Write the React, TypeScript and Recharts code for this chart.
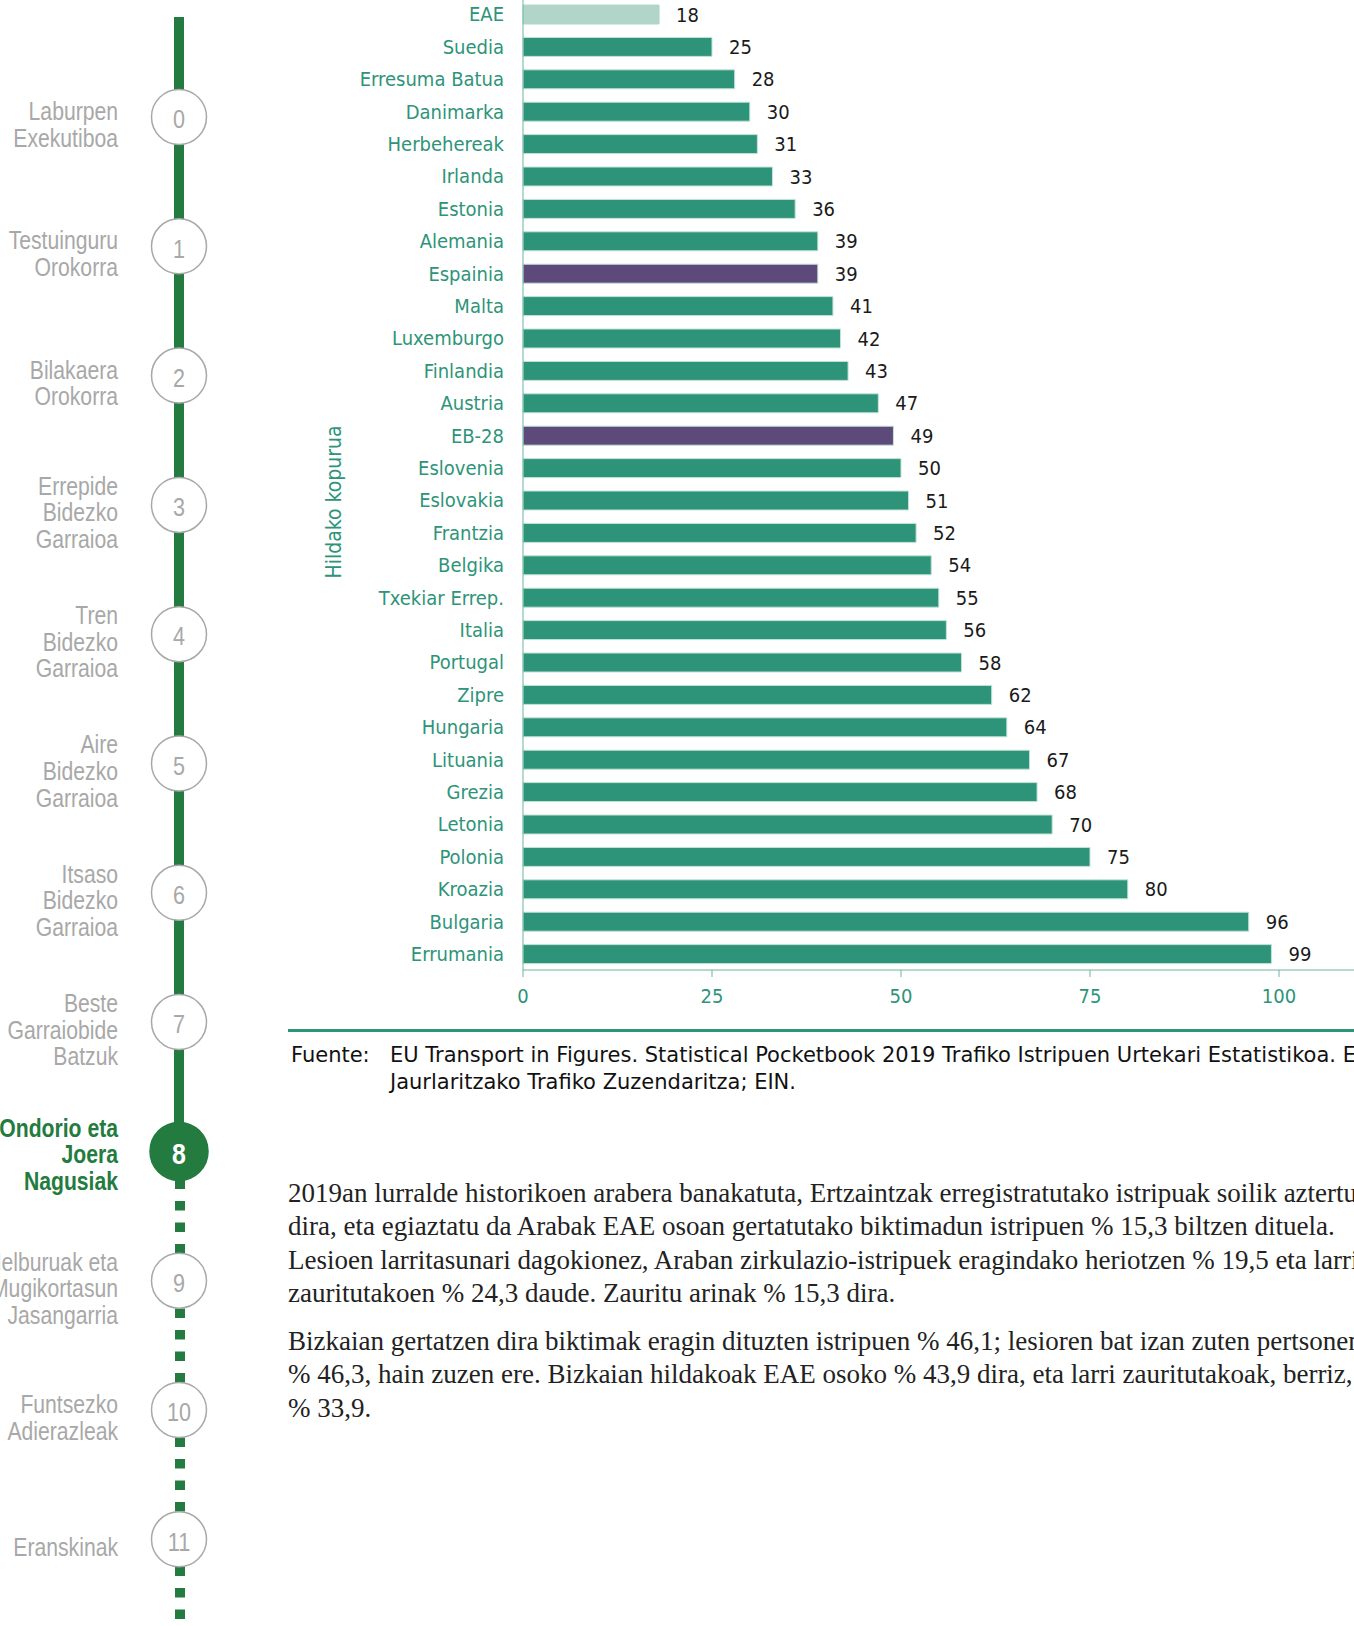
import { BarChart, Bar, XAxis, YAxis, Cell, LabelList } from 'recharts';

// Hildako kopurua (milioi biztanleko), 2019
const countries = [
  'EAE', 'Suedia', 'Erresuma Batua', 'Danimarka', 'Herbehereak', 'Irlanda', 'Estonia',
  'Alemania', 'Espainia', 'Malta', 'Luxemburgo', 'Finlandia', 'Austria', 'EB-28',
  'Eslovenia', 'Eslovakia', 'Frantzia', 'Belgika', 'Txekiar Errep.', 'Italia', 'Portugal',
  'Zipre', 'Hungaria', 'Lituania', 'Grezia', 'Letonia', 'Polonia', 'Kroazia', 'Bulgaria',
  'Errumania',
];
const deaths = [
  18, 25, 28, 30, 31, 33, 36, 39, 39, 41, 42, 43, 47, 49, 50, 51, 52, 54, 55, 56, 58, 62,
  64, 67, 68, 70, 75, 80, 96, 99,
];
const xTicks = [0, 25, 50, 75, 100];

const regionName = 'EAE';
const highlighted = ['Espainia', 'EB-28'];

const sideNumbers = ['0', '1', '2', '3', '4', '5', '6', '7', '8', '9', '10', '11'];
const sideLabels = [
  ['Laburpen', 'Exekutiboa'],
  ['Testuinguru', 'Orokorra'],
  ['Bilakaera', 'Orokorra'],
  ['Errepide', 'Bidezko', 'Garraioa'],
  ['Tren', 'Bidezko', 'Garraioa'],
  ['Aire', 'Bidezko', 'Garraioa'],
  ['Itsaso', 'Bidezko', 'Garraioa'],
  ['Beste', 'Garraiobide', 'Batzuk'],
  ['Ondorio eta', 'Joera', 'Nagusiak'],
  ['Helburuak eta', 'Mugikortasun', 'Jasangarria'],
  ['Funtsezko', 'Adierazleak'],
  ['Eranskinak'],
];
const activeIndex = 8;

const sourceLines = [
  'EU Transport in Figures. Statistical Pocketbook 2019 Trafiko Istripuen Urtekari Estatistikoa. Eusko',
  'Jaurlaritzako Trafiko Zuzendaritza; EIN.',
];
const paragraph1 = [
  '2019an lurralde historikoen arabera banakatuta, Ertzaintzak erregistratutako istripuak soilik aztertu',
  'dira, eta egiaztatu da Arabak EAE osoan gertatutako biktimadun istripuen % 15,3 biltzen dituela.',
  'Lesioen larritasunari dagokionez, Araban zirkulazio-istripuek eragindako heriotzen % 19,5 eta larri',
  'zauritutakoen % 24,3 daude. Zauritu arinak % 15,3 dira.',
];
const paragraph2 = [
  'Bizkaian gertatzen dira biktimak eragin dituzten istripuen % 46,1; lesioren bat izan zuten pertsonen',
  '% 46,3, hain zuzen ere. Bizkaian hildakoak EAE osoko % 43,9 dira, eta larri zauritutakoak, berriz,',
  '% 33,9.',
];

const TEAL = '#2e9479';
const LIGHT = '#b1d6c9';
const PURPLE = '#5e4a7a';
const AXIS = '#6fb5a0';
const GREEN = '#237b40';
const GREY = '#a8a8a8';
const SANS = "'DejaVu Sans Condensed', 'DejaVu Sans', sans-serif";
const WIDE = "'DejaVu Sans', sans-serif";
const NARROW = "'Liberation Sans', Arial, sans-serif";
const SERIF = "'Liberation Serif', serif";

const data = countries.map((name, i) => ({ name, value: deaths[i] }));

function barColor(name: string) {
  if (name === regionName) return LIGHT;
  if (highlighted.includes(name)) return PURPLE;
  return TEAL;
}

function Sidebar() {
  const cx = 179;
  const r = 27.5;
  const top = 117;
  const step = 129.3;
  const squeeze = 0.83;
  const activeY = top + activeIndex * step;
  return (
    <svg width={240} height={1626} style={{ position: 'absolute', left: 0, top: 0 }}>
      <line x1={cx} x2={cx} y1={17} y2={activeY} stroke={GREEN} strokeWidth={10} />
      <line
        x1={cx + 1}
        x2={cx + 1}
        y1={activeY + 28}
        y2={1626}
        stroke={GREEN}
        strokeWidth={10}
        strokeDasharray="9.5 12"
      />
      {sideNumbers.map((n, i) => {
        const cy = top + i * step;
        const active = i === activeIndex;
        const lines = sideLabels[i];
        const shift = active ? 12 : 16.5;
        return (
          <g key={n}>
            <circle
              cx={cx}
              cy={cy}
              r={active ? 29 : r}
              fill={active ? GREEN : '#fff'}
              stroke={active ? GREEN : GREY}
              strokeWidth={1.5}
            />
            <text
              transform={`translate(${cx},${cy + 2}) scale(${squeeze},1)`}
              textAnchor="middle"
              dominantBaseline="central"
              fontFamily={NARROW}
              fontSize={active ? 30 : 26}
              fontWeight={active ? 'bold' : 'normal'}
              fill={active ? '#fff' : GREY}
            >
              {n}
            </text>
            {lines.map((t, j) => (
              <text
                key={t}
                transform={`translate(118,${cy + shift + (j - (lines.length - 1) / 2) * 26.7}) scale(${squeeze},1)`}
                textAnchor="end"
                fontFamily={NARROW}
                fontSize={25.5}
                fontWeight={active ? 'bold' : 'normal'}
                fill={active ? GREEN : GREY}
              >
                {t}
              </text>
            ))}
          </g>
        );
      })}
    </svg>
  );
}

export default function App() {
  return (
    <div
      style={{
        position: 'absolute',
        left: 0,
        top: 0,
        width: 1354,
        height: 1626,
        overflow: 'hidden',
        background: '#fff',
      }}
    >
      <Sidebar />

      {/* Chart */}
      <div style={{ position: 'absolute', left: 0, top: -20 }}>
        <BarChart
          width={1468}
          height={1031}
          data={data}
          layout="vertical"
          margin={{ top: 18, right: 0, bottom: 0, left: 0 }}
        >
          <XAxis
            type="number"
            domain={[0, 125]}
            ticks={xTicks}
            height={41}
            stroke={AXIS}
            tickSize={7}
            tickMargin={12}
            tick={{ fontSize: 20, fill: TEAL, fontFamily: SANS }}
          />
          <YAxis
            type="category"
            dataKey="name"
            width={523}
            stroke={AXIS}
            tickLine={false}
            tickSize={0}
            tickMargin={19}
            interval={0}
            tick={{ fontSize: 20, fill: TEAL, fontFamily: SANS }}
          />
          <Bar dataKey="value" barSize={19} isAnimationActive={false} stroke="#c4e3d8" strokeWidth={1}>
            {data.map((d) => (
              <Cell key={d.name} fill={barColor(d.name)} stroke={d.name === regionName ? LIGHT : '#c4e3d8'} />
            ))}
            <LabelList
              dataKey="value"
              position="right"
              offset={17}
              fill="#1a1a1a"
              fontSize={20}
              fontFamily={SANS}
            />
          </Bar>
        </BarChart>
      </div>

      {/* Y axis title */}
      <div
        style={{
          position: 'absolute',
          left: 334,
          top: 502,
          transform: 'translate(-50%, -50%) rotate(-90deg)',
          whiteSpace: 'nowrap',
          fontFamily: SANS,
          fontSize: 21,
          color: TEAL,
        }}
      >
        Hildako kopurua
      </div>

      {/* Source */}
      <div
        style={{
          position: 'absolute',
          left: 288,
          top: 1029,
          width: 1100,
          height: 3,
          background: TEAL,
        }}
      />
      <div
        style={{
          position: 'absolute',
          left: 291,
          top: 1042,
          fontFamily: WIDE,
          fontSize: 21,
          lineHeight: '27px',
          color: '#111',
          whiteSpace: 'nowrap',
        }}
      >
        Fuente:
      </div>
      <div
        style={{
          position: 'absolute',
          left: 390,
          top: 1042,
          fontFamily: WIDE,
          fontSize: 21,
          lineHeight: '27px',
          color: '#111',
          whiteSpace: 'nowrap',
        }}
      >
        {sourceLines.map((l) => (
          <div key={l}>{l}</div>
        ))}
      </div>

      {/* Body text */}
      <div
        style={{
          position: 'absolute',
          left: 288,
          top: 1177,
          fontFamily: SERIF,
          fontSize: 27,
          lineHeight: '33.3px',
          color: '#222',
          whiteSpace: 'nowrap',
        }}
      >
        {paragraph1.map((l) => (
          <div key={l}>{l}</div>
        ))}
      </div>
      <div
        style={{
          position: 'absolute',
          left: 288,
          top: 1325,
          fontFamily: SERIF,
          fontSize: 27,
          lineHeight: '33.3px',
          color: '#222',
          whiteSpace: 'nowrap',
        }}
      >
        {paragraph2.map((l) => (
          <div key={l}>{l}</div>
        ))}
      </div>
    </div>
  );
}
